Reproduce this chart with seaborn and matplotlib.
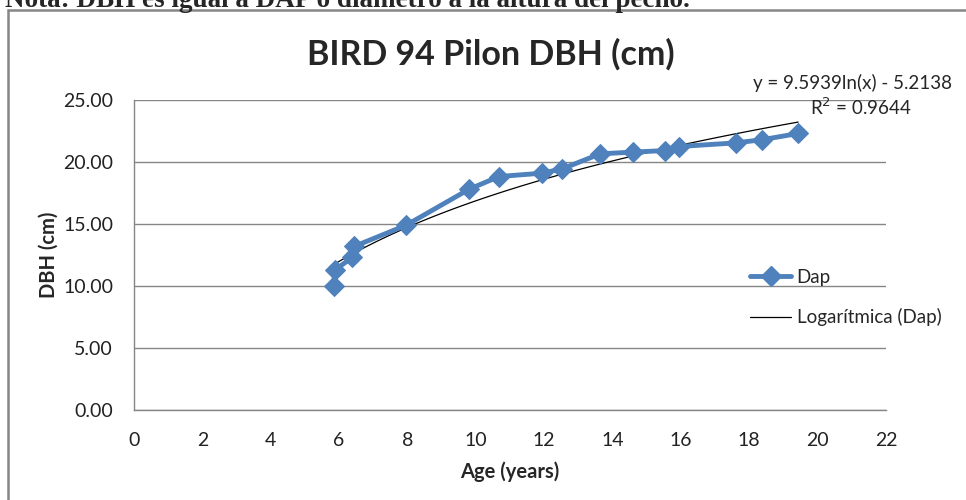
import numpy as np
import pandas as pd
import matplotlib
matplotlib.use("Agg")
import matplotlib.pyplot as plt
import seaborn as sns
from matplotlib.lines import Line2D
from matplotlib.patches import Rectangle
from matplotlib.ticker import FormatStrFormatter

# Datos
age = [5.84, 5.87, 6.38, 6.45, 7.96, 9.80, 10.68, 11.94, 12.53, 13.64, 14.60, 15.52, 15.95, 17.60, 18.38, 19.43]
dap = [10.00, 11.27, 12.30, 13.20, 14.90, 17.80, 18.83, 19.10, 19.45, 20.66, 20.80, 20.92, 21.25, 21.54, 21.80, 22.30]
x_ticks = list(range(0, 23, 2))
y_ticks = [0, 5, 10, 15, 20, 25]

df = pd.DataFrame({"Age": age, "Dap": dap})

sns.set_style("white")
plt.rcParams["font.family"] = ["Lato", "DejaVu Sans"]

blue = "#4F81BD"
gray = "#868686"

fig = plt.figure(figsize=(9.66, 5.0), dpi=100)
ax = fig.add_axes([134 / 966, 1 - 410 / 500, (886 - 134) / 966, 310 / 500])

# Marco del grafico
fig.patches.append(Rectangle((8 / 966, -0.1), 1.1, 1 - 10 / 500 + 0.1, transform=fig.transFigure,
                             fill=False, edgecolor=gray, lw=1.8, zorder=0))

# Linea de tendencia logaritmica
sns.regplot(data=df, x="Age", y="Dap", logx=True, scatter=False, ci=None,
            line_kws={"color": "black", "lw": 0.9}, ax=ax)

# Serie Dap
sns.lineplot(data=df, x="Age", y="Dap", sort=False, estimator=None, color=blue, lw=3.5,
             marker="D", markersize=10, markeredgecolor=blue, ax=ax, zorder=3)

ax.set_xlim(0, 22)
ax.set_ylim(0, 25)
ax.set_xticks(x_ticks)
ax.set_yticks(y_ticks)
ax.yaxis.set_major_formatter(FormatStrFormatter("%.2f"))
ax.grid(axis="y", color=gray, lw=1)
ax.set_axisbelow(True)
for s in ["top", "right"]:
    ax.spines[s].set_visible(False)
for s in ["left", "bottom"]:
    ax.spines[s].set_color(gray)
    ax.spines[s].set_linewidth(1)
ax.tick_params(axis="both", direction="out", length=5, color=gray, labelsize=14, labelcolor="#222222")
ax.tick_params(axis="x", pad=11)
ax.tick_params(axis="y", pad=10)

ax.set_xlabel("Age (years)", fontsize=14.5, fontweight="bold", labelpad=9)
ax.set_ylabel("DBH (cm)", fontsize=14.5, fontweight="bold", labelpad=3)

fig.text(491 / 966, 1 - 54 / 500, "BIRD 94 Pilon DBH (cm)", fontsize=24.5, fontweight="bold",
         ha="center", va="center")

fig.text(952 / 966, 1 - 83 / 500, "y = 9.5939ln(x) - 5.2138", fontsize=13.5, ha="right", va="center")
fig.text(912 / 966, 1 - 107 / 500, "R$^2$ = 0.9644", fontsize=13.5, ha="right", va="center")

fig.text(5 / 966, 1 - 7 / 500, "Nota: DBH es igual a DAP ó diametro a la altura del pecho.",
         fontsize=19.5, fontweight="bold", family="Liberation Serif", ha="left", va="baseline")

handles = [Line2D([], [], color=blue, lw=3.5, marker="D", markersize=10),
           Line2D([], [], color="black", lw=0.9)]
fig.legend(handles, ["Dap", "Logarítmica (Dap)"], loc="upper left",
           bbox_to_anchor=(733 / 966, 1 - 252 / 500), frameon=False, fontsize=13.5,
           handlelength=2.2, handletextpad=0.3, labelspacing=1.2)

fig.savefig("out.png", dpi=100)
